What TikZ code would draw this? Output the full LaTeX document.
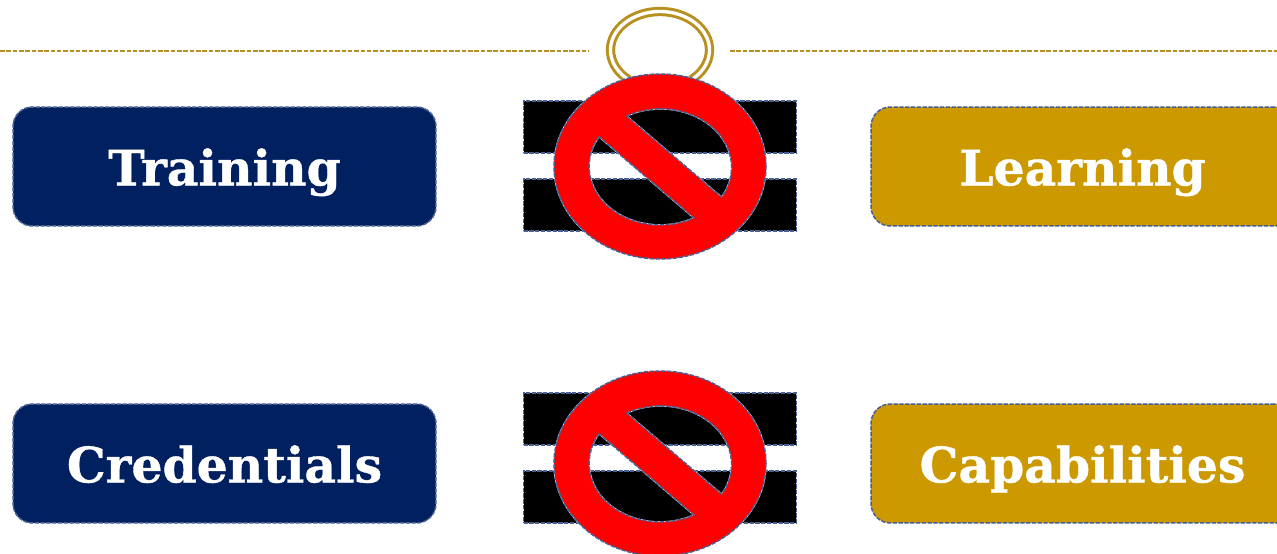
\documentclass[tikz,border=0pt]{standalone}
\usepackage{fontspec}
\setmainfont[BoldFeatures={FakeBold=0.8}]{DejaVu Serif}
\definecolor{navybox}{HTML}{002060}
\definecolor{goldbox}{HTML}{CC9900}
\definecolor{goldline}{HTML}{B8901F}
\definecolor{edgeblue}{HTML}{4A6091}
\definecolor{stopred}{HTML}{FF0000}
\tikzset{
  dashedge/.style={draw=edgeblue,line width=0.85pt,dash pattern=on 2.4pt off 0.9pt,
    preaction={draw=white!85!edgeblue,line width=0.85pt,solid}},
  wordbox/.style={rounded corners=11pt,dashedge,minimum width=8.46cm,minimum height=2.38cm,
    inner sep=0pt,text=white,text height=21.5pt,text depth=0pt,
    font=\fontsize{27.8}{30}\selectfont\bfseries},
  barbox/.style={fill=black,dashedge,minimum width=5.46cm,minimum height=1.04cm,inner sep=0pt},
  ruleline/.style={draw=goldline,line width=0.7pt,dash pattern=on 2.6pt off 1pt},
  halo/.style={draw=goldline,line width=1.7pt,double=white,double distance=1.9pt}
}
\begin{document}
\begin{tikzpicture}[x=0.02cm,y=0.02cm]
  \useasboundingbox (0,0) rectangle (1277,554);
  \clip (0,0) rectangle (1277,554);

  % Top rule with the ring
  \coordinate (ruleA) at (0,503);
  \coordinate (ruleB) at (589,503);
  \coordinate (ruleC) at (730,503);
  \coordinate (ruleD) at (1277,503);
  \draw[ruleline] (ruleA) -- (ruleB);
  \draw[ruleline] (ruleC) -- (ruleD);
  \draw[halo] (660,504) ellipse[x radius=49.5,y radius=38.5];

  % Word boxes
  \node[wordbox,fill=navybox] (training) at (224.5,387.5) {Training};
  \node[wordbox,fill=goldbox] (learning) at (1082.5,387.5) {Learning};
  \node[wordbox,fill=navybox] (credentials) at (224.5,90.5) {Credentials};
  \node[wordbox,fill=goldbox] (capabilities) at (1082.5,90.5) {Capabilities};

  % Crossed-out equals signs
  \foreach \name/\bartop/\barlow/\cy in {a/427/349/387.5, b/135/57/90.5}{
    \node[barbox] (bar\name1) at (660,\bartop) {};
    \node[barbox] (bar\name2) at (660,\barlow) {};
    \path[fill=stopred,even odd rule,dashedge]
      (766,\cy) arc[start angle=0,end angle=360,x radius=106,y radius=92.5] -- cycle
      (626.7,\cy+50.5) arc[start angle=118.5,end angle=-30.7,x radius=71,y radius=58.5] -- cycle
      (599,\cy+29.8) arc[start angle=149.4,end angle=298.4,x radius=71,y radius=58.5] -- cycle;
  }
\end{tikzpicture}
\end{document}
